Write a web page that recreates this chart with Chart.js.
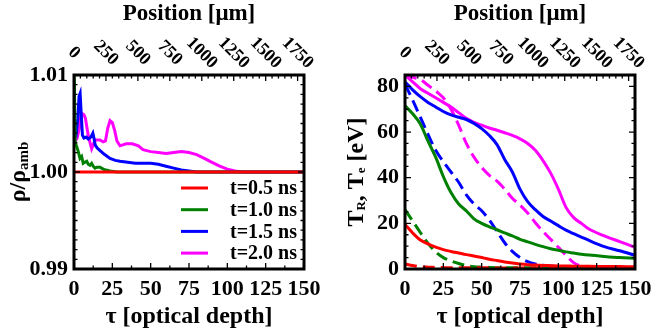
<!DOCTYPE html>
<html>
<head>
<meta charset="utf-8">
<script src="https://cdn.jsdelivr.net/npm/chart.js@4.4.1/dist/chart.umd.min.js"></script>
<style>
  html, body { margin: 0; padding: 0; background: #fff; }
  #wrap { position: relative; width: 662px; height: 331px; }
  canvas { position: absolute; top: 0; }
</style>
</head>
<body>
<div id="wrap">
  <canvas id="dens" width="331" height="331" style="left:0"></canvas>
  <canvas id="temp" width="331" height="331" style="left:331px"></canvas>
</div>
<script>
// series labels / colours
const times = ["t=0.5 ns", "t=1.0 ns", "t=1.5 ns", "t=2.0 ns"];
const colors = ["#ff0000", "#008000", "#0000ff", "#ff00ff"];

// tick labels
const tauTicks = [0, 25, 50, 75, 100, 125, 150];
const posTicks = [0, 250, 500, 750, 1000, 1250, 1500, 1750];

// density, left panel
const tauRho05 = [0, 150];
const rho05 = [1.0, 1.0];
const tauRho10 = [0, 0.8, 1.8, 2.8, 3.9, 5, 6, 7, 8.3, 9.3, 10.4, 11.5, 12.5, 13.7, 15, 17, 19, 21, 23.5, 28, 150];
const rho10 = [1.012, 1.003, 1.0026, 1.0021, 1.0014, 1.0016, 1.0009, 1.0010, 1.0011, 1.0008, 1.0007, 1.0009, 1.0006, 1.0004, 1.0005, 1.0005, 1.0003, 1.0002, 1.0001, 1.0, 1.0];
const tauRho15 = [0, 1.5, 2.5, 3.3, 4, 4.7, 5.5, 6.5, 8, 9.3, 11, 12.3, 13, 13.8, 15, 17, 20, 23.5, 27, 30, 35, 40, 45, 50, 55, 60, 65, 70, 75, 80, 150];
const rho15 = [1.0045, 1.004, 1.0055, 1.0078, 1.0081, 1.006, 1.0038, 1.0035, 1.0036, 1.0034, 1.0036, 1.004, 1.0035, 1.0028, 1.0025, 1.0022, 1.0018, 1.0014, 1.0012, 1.0011, 1.001, 1.0009, 1.0009, 1.0009, 1.0008, 1.0006, 1.0004, 1.0002, 1.0001, 1.0, 1.0];
const tauRho20 = [0, 2, 3.5, 4.5, 5.5, 6.5, 7.5, 8.5, 9.5, 10.5, 11.5, 12.5, 13.7, 15, 17, 19, 20.5, 22, 23.5, 25, 26.5, 28, 30, 34, 38, 42, 45, 50, 55, 60, 65, 70, 75, 80, 85, 90, 95, 100, 105, 110, 150];
const rho20 = [1.003, 1.0035, 1.0045, 1.0058, 1.006, 1.0059, 1.0055, 1.0045, 1.0036, 1.003, 1.0024, 1.0028, 1.0033, 1.0033, 1.0033, 1.0031, 1.0032, 1.0045, 1.0053, 1.0051, 1.0043, 1.0032, 1.0027, 1.0029, 1.0029, 1.0027, 1.0023, 1.0021, 1.002, 1.0019, 1.002, 1.0021, 1.002, 1.0018, 1.0014, 1.001, 1.0006, 1.0003, 1.0001, 1.0, 1.0];

// temperatures, right panel (solid and dashed curves)
const tauT = [0, 5, 10, 15, 20, 25, 30, 35, 40, 45, 50, 55, 60, 65, 70, 75, 80, 85, 90, 95, 100, 105, 110, 115, 120, 130, 140, 150];
const solid05 = [19.5, 15.8, 12.7, 11, 9.6, 8.5, 7.7, 7, 6.3, 5.7, 5, 4.3, 3.7, 3.1, 2.6, 2.2, 1.9, 1.7, 1.55, 1.45, 1.35, 1.3, 1.25, 1.2, 1.2, 1.1, 1.05, 1.0];
const dashed05 = [2.2, 1.5, 1.0, 0.8, 0.7, 0.6, 0.5, 0.5, 0.5, 0.5, 0.5, 0.5, 0.4, 0.4, 0.4, 0.4, 0.4, 0.4, 0.4, 0.4, 0.3, 0.3, 0.3, 0.3, 0.3, 0.3, 0.3, 0.3];
const solid10 = [71.5, 68, 63.5, 56, 49, 40.5, 33.5, 28.5, 25.5, 22, 20, 18.5, 17.2, 15.8, 14.5, 13, 11.9, 10.8, 9.8, 8.9, 8.2, 7.5, 7, 6.5, 6.1, 5.5, 5, 4.7];
const dashed10 = [26, 21, 16, 11.2, 7.5, 5, 3.5, 2.4, 1.5, 1, 0.8, 0.7, 0.6, 0.5, 0.5, 0.5, 0.5, 0.5, 0.4, 0.4, 0.4, 0.4, 0.4, 0.4, 0.4, 0.4, 0.4, 0.4];
const solid15 = [82, 78.5, 75.5, 73, 71, 69, 67.5, 66.5, 65.5, 63.8, 61.5, 58.5, 54.5, 48, 42.5, 35, 29.5, 26, 23, 21, 19, 17, 15.5, 14, 12.5, 9.8, 8, 6];
const dashed15 = [81, 74, 66.5, 59, 52, 47, 42.5, 38, 32.5, 28.5, 25.5, 21.5, 16.5, 11.5, 7.7, 5, 3.2, 2.2, 1.7, 1.3, 1, 0.9, 0.8, 0.7, 0.6, 0.5, 0.5, 0.5];
const solid20 = [85, 82, 79, 77, 75, 73, 71, 68.5, 66, 64.3, 63, 61.8, 60.8, 59.7, 58.5, 57, 55, 52, 47.5, 42, 35, 27, 22.5, 20, 17.5, 14.5, 12, 9.5];
const dashed20 = [85, 84, 83, 80.5, 78, 75, 70, 63, 55, 49, 44.5, 41, 38.5, 35, 31, 28, 24.5, 20.3, 16.5, 13, 9.5, 6, 2.8, 1.2, 0.6, 0.3, 0.2, 0.2];

const FONT = "'Liberation Serif', 'Times New Roman', serif";
Chart.defaults.font.family = FONT;
Chart.defaults.color = "#000";

const pts = (xs, ys) => xs.map((x, i) => ({ x: x, y: ys[i] }));

// frame, inward ticks, rotated top labels, y title with subscripts, legend
const framePlugin = {
  id: "frame",
  afterDraw(chart, args, o) {
    const { ctx, chartArea: a, scales } = chart;
    const x = scales.x, x2 = scales.x2, y = scales.y;
    ctx.save();
    ctx.strokeStyle = "#000";
    ctx.lineWidth = 1.3;
    ctx.beginPath();
    // bottom
    let n = Math.round((x.max - x.min) / o.xMinor), every = Math.round(o.xMajor / o.xMinor);
    for (let i = 0; i <= n; i++) {
      const px = x.getPixelForValue(x.min + i * o.xMinor);
      const len = i % every === 0 ? 6 : 3.5;
      ctx.moveTo(px, a.bottom); ctx.lineTo(px, a.bottom - len);
    }
    // top
    n = Math.round((x2.max - x2.min) / o.topMinor); every = Math.round(o.topMajor / o.topMinor);
    for (let i = 0; i <= n; i++) {
      const px = x2.getPixelForValue(x2.min + i * o.topMinor);
      const len = i % every === 0 ? 6 : 3.5;
      ctx.moveTo(px, a.top); ctx.lineTo(px, a.top + len);
    }
    // left and right
    n = Math.round((y.max - y.min) / o.yMinor); every = Math.round(o.yMajor / o.yMinor);
    for (let i = 0; i <= n; i++) {
      const v = y.min + i * o.yMinor;
      const py = y.getPixelForValue(v);
      const major = Math.abs(v / o.yMajor - Math.round(v / o.yMajor)) < 1e-6;
      const len = major ? 6 : 3.5;
      ctx.moveTo(a.left, py); ctx.lineTo(a.left + len, py);
      ctx.moveTo(a.right, py); ctx.lineTo(a.right - len, py);
    }
    ctx.stroke();
    ctx.lineWidth = 3;
    ctx.strokeRect(a.left, a.top, a.right - a.left, a.bottom - a.top);

    // top labels, rotated clockwise
    ctx.fillStyle = "#000";
    ctx.font = "bold 18px " + FONT;
    ctx.textAlign = "center";
    ctx.textBaseline = "middle";
    posTicks.forEach((v) => {
      ctx.save();
      ctx.translate(x2.getPixelForValue(v), 53);
      ctx.rotate(Math.PI / 4);
      ctx.fillText(String(v), 0, 0);
      ctx.restore();
    });

    // y title with subscripts
    const parts = o.yTitle;
    let total = 0;
    parts.forEach((p) => {
      ctx.font = "bold " + (p.sub ? o.subSize : 24) + "px " + FONT;
      p.w = ctx.measureText(p.t).width;
      total += p.w;
    });
    ctx.save();
    ctx.translate(o.titleX, (a.top + a.bottom) / 2);
    ctx.rotate(-Math.PI / 2);
    ctx.textAlign = "left";
    ctx.textBaseline = "alphabetic";
    let cx = -total / 2;
    parts.forEach((p) => {
      ctx.font = "bold " + (p.sub ? o.subSize : 24) + "px " + FONT;
      ctx.fillText(p.t, cx, p.sub ? o.subDrop : 0);
      cx += p.w;
    });
    ctx.restore();

    // legend inside the plot
    if (o.legend) {
      ctx.font = "bold 20px " + FONT;
      ctx.textAlign = "left";
      ctx.textBaseline = "middle";
      ctx.lineWidth = 3;
      chart.data.datasets.forEach((ds, i) => {
        const ly = o.legend.y + i * o.legend.dy;
        ctx.strokeStyle = ds.borderColor;
        ctx.beginPath();
        ctx.moveTo(o.legend.x0, ly); ctx.lineTo(o.legend.x1, ly);
        ctx.stroke();
        ctx.fillText(ds.label, o.legend.tx, ly + 1);
      });
    }
    ctx.restore();
  }
};

function baseScales(yOpts, yFit) {
  return {
    x: {
      type: "linear", position: "bottom", min: 0, max: 150,
      grid: { display: false, drawTicks: false }, border: { display: false },
      ticks: { stepSize: 25, autoSkip: false, maxRotation: 0, padding: 7, font: { size: 22, weight: "bold" } },
      afterBuildTicks: (s) => { s.ticks = tauTicks.map((v) => ({ value: v })); },
      title: { display: true, text: "τ [optical depth]", font: { size: 24, weight: "bold" }, padding: 0 },
      afterFit: (s) => { s.height = 62; }
    },
    x2: {
      type: "linear", position: "top", min: 0, max: 1800,
      grid: { display: false, drawTicks: false }, border: { display: false },
      ticks: { display: false },
      title: { display: true, text: "Position [μm]", font: { size: 23, weight: "bold" }, padding: 0 },
      afterFit: (s) => { s.height = 75; }
    },
    y: Object.assign({
      grid: { display: false, drawTicks: false }, border: { display: false },
      afterFit: (s) => { s.width = 74; }
    }, yOpts)
  };
}

const common = {
  responsive: false,
  animation: false,
  devicePixelRatio: 1,
  layout: { padding: { left: 0, right: 27, top: 0, bottom: 0 } },
  elements: { point: { radius: 0 }, line: { borderWidth: 3 } },
  plugins: { legend: { display: false }, tooltip: { enabled: false } }
};

// left: density
const densSets = [[tauRho05, rho05], [tauRho10, rho10], [tauRho15, rho15], [tauRho20, rho20]];
new Chart(document.getElementById("dens"), {
  type: "line",
  data: {
    datasets: densSets.map((s, i) => ({
      label: times[i], data: pts(s[0], s[1]), borderColor: colors[i], backgroundColor: colors[i], tension: 0
    }))
  },
  options: Object.assign({}, common, {
    scales: baseScales({
      min: 0.99, max: 1.01,
      afterBuildTicks: (s) => { s.ticks = [0.99, 1.0, 1.01].map((v) => ({ value: v })); },
      ticks: { padding: 6, font: { size: 22, weight: "bold" }, callback: (v) => Number(v).toFixed(2) }
    }),
    plugins: Object.assign({}, common.plugins, {
      frame: {
        xMinor: 12.5, xMajor: 25, topMinor: 50, topMajor: 250, yMinor: 0.001, yMajor: 0.01,
        yTitle: [{ t: "ρ/ρ" }, { t: "amb", sub: true }], subSize: 15, subDrop: 3, titleX: 25,
        legend: { x0: 181, x1: 208, tx: 230, y: 188, dy: 21.7 }
      }
    })
  }),
  plugins: [framePlugin]
});

// right: temperatures
const solids = [solid05, solid10, solid15, solid20];
const dashes = [dashed05, dashed10, dashed15, dashed20];
const tempSets = [];
times.forEach((t, i) => {
  tempSets.push({ label: t, data: pts(tauT, solids[i]), borderColor: colors[i], cubicInterpolationMode: "monotone" });
  tempSets.push({ label: t, data: pts(tauT, dashes[i]), borderColor: colors[i], borderDash: [12, 6], cubicInterpolationMode: "monotone" });
});
new Chart(document.getElementById("temp"), {
  type: "line",
  data: { datasets: tempSets },
  options: Object.assign({}, common, {
    scales: baseScales({
      min: 0, max: 85,
      afterBuildTicks: (s) => { s.ticks = [0, 20, 40, 60, 80].map((v) => ({ value: v })); },
      ticks: { padding: 6, font: { size: 22, weight: "bold" } }
    }),
    plugins: Object.assign({}, common.plugins, {
      frame: {
        xMinor: 12.5, xMajor: 25, topMinor: 50, topMajor: 250, yMinor: 5, yMajor: 20,
        yTitle: [{ t: "T" }, { t: "R", sub: true }, { t: ", T" }, { t: "e", sub: true }, { t: " [eV]" }],
        subSize: 13, subDrop: 2, titleX: 32
      }
    })
  }),
  plugins: [framePlugin]
});
</script>
</body>
</html>
